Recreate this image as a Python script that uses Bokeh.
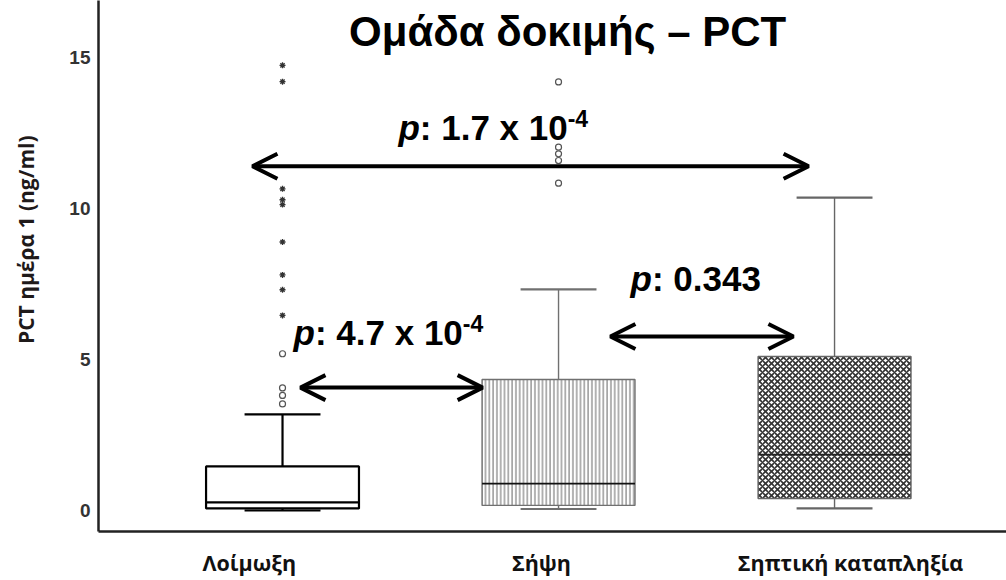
from bokeh.plotting import figure
from bokeh.models import Range1d, FixedTicker, Arrow, OpenHead, ColumnDataSource
from bokeh.core.properties import value
from bokeh.embed import file_html
from bokeh.resources import INLINE

# ---- data ----
categories = ["Λοίμωξη", "Σήψη", "Σηπτική καταπληξία"]
positions = [0, 1, 2]
lower_whisker = [0.0, 0.05, 0.07]
q1 = [0.07, 0.17, 0.40]
median = [0.27, 0.89, 1.85]
q3 = [1.46, 4.34, 5.10]
upper_whisker = [3.18, 7.32, 10.36]

circle_group = [0, 0, 0, 0, 1, 1, 1, 1, 1]
circle_value = [5.19, 4.06, 3.81, 3.53, 14.19, 12.03, 11.81, 11.59, 10.84]
star_group = [0, 0, 0, 0, 0, 0, 0, 0, 0]
star_value = [14.74, 14.20, 10.65, 10.29, 10.13, 8.89, 7.80, 7.31, 6.46]

p_text = ["1.7 x 10", "4.7 x 10", "0.343"]
p_exp = ["-4", "-4", ""]

y_ticks = [0, 5, 10, 15]
title_text = "Ομάδα δοκιμής – PCT"
y_label = "PCT ημέρα 1 (ng/ml)"

# ---- figure ----
W, H = 1006, 580
BOTTOM_AXIS = 531
p = figure(width=W, height=H, output_backend="svg", toolbar_location=None,
           x_range=Range1d(-0.6667, 2.623), y_range=Range1d(-0.695, 16.887),
           min_border_left=98, min_border_right=0, min_border_top=0,
           min_border_bottom=H - BOTTOM_AXIS)
p.outline_line_color = None
p.xgrid.visible = False
p.ygrid.visible = False
p.background_fill_color = "white"
p.border_fill_color = "white"

# y axis
p.yaxis.ticker = FixedTicker(ticks=y_ticks)
p.yaxis.axis_line_width = 2.5
p.yaxis.axis_line_color = "#222222"
p.yaxis.major_tick_line_color = None
p.yaxis.minor_tick_line_color = None
p.yaxis.major_label_text_font = "Liberation Sans"
p.yaxis.major_label_text_font_style = "bold"
p.yaxis.major_label_text_font_size = "19px"
p.yaxis.major_label_text_color = "#333333"
p.yaxis.major_label_standoff = 2
# leading en-spaces lift the centred, rotated title to where it sits in the reference
p.yaxis.axis_label = "\u2002" * 5 + y_label
p.yaxis.axis_label_text_font = "Open Sans"
p.yaxis.axis_label_text_font_style = "bold"
p.yaxis.axis_label_text_font_size = "21px"
p.yaxis.axis_label_text_color = "#1f1a1a"
p.yaxis.axis_label_standoff = 26

# x axis
label_pos = [-0.12, 0.938, 2.058]
p.xaxis.ticker = FixedTicker(ticks=label_pos)
p.xaxis.major_label_overrides = {lp: c for lp, c in zip(label_pos, categories)}
p.xaxis.axis_line_width = 2.5
p.xaxis.axis_line_color = "#222222"
p.xaxis.major_tick_line_color = None
p.xaxis.minor_tick_line_color = None
p.xaxis.major_label_text_font = "Open Sans"
p.xaxis.major_label_text_font_style = "bold"
p.xaxis.major_label_text_font_size = "21.5px"
p.xaxis.major_label_text_color = "#111111"
p.xaxis.major_label_standoff = 10

# ---- boxes ----
box_src = ColumnDataSource(dict(
    x=positions, q1=q1, q3=q3, med=median, lo=lower_whisker, hi=upper_whisker,
    line_color=["#000000", "#707070", "#666666"],
    line_width=[2.2, 1.4, 1.4],
    hatch=[" ", "|", "x"],
    hatch_color=["#ffffff", "#666666", "#333333"],
    hatch_scale=[3.8, 3.8, 6],
    hatch_weight=[1, 1, 1.6],
))
box_w = 0.554
cap_w = 0.275

# whiskers
p.segment(x0="x", y0="q3", x1="x", y1="hi", source=box_src, line_color="line_color", line_width="line_width")
p.segment(x0="x", y0="lo", x1="x", y1="q1", source=box_src, line_color="line_color", line_width="line_width")
caps_x0 = [x - cap_w / 2 for x in positions]
caps_x1 = [x + cap_w / 2 for x in positions]
p.segment(x0=caps_x0, y0=upper_whisker, x1=caps_x1, y1=upper_whisker,
          line_color=["#000000", "#707070", "#666666"], line_width=[2.2, 2.2, 2.2])
p.segment(x0=caps_x0, y0=lower_whisker, x1=caps_x1, y1=lower_whisker,
          line_color=["#000000", "#707070", "#666666"], line_width=[2.2, 2.2, 2.2])

p.vbar(x="x", bottom="q1", top="q3", width=box_w, source=box_src,
       fill_color="white", line_color="line_color", line_width="line_width",
       hatch_pattern="hatch", hatch_color="hatch_color", hatch_scale="hatch_scale",
       hatch_weight="hatch_weight")
med_x0 = [x - box_w / 2 for x in positions]
med_x1 = [x + box_w / 2 for x in positions]
p.segment(x0=med_x0, y0=median, x1=med_x1, y1=median,
          line_color=["#000000", "#111111", "#222222"], line_width=[2.2, 1.6, 1.6])

# outliers
p.scatter(x=[positions[g] for g in circle_group], y=circle_value, marker="circle",
          size=6, fill_color="white", line_color="#555555", line_width=1.2)
p.scatter(x=[positions[g] for g in star_group], y=star_value, marker="asterisk",
          size=6, line_color="#333333", line_width=1.3)

# ---- comparison arrows ----
arrows = [(-0.109, 1.906, 11.4), (0.065, 0.725, 4.07), (1.188, 1.851, 5.76)]
for x0, x1, yy in arrows:
    p.add_layout(Arrow(x_start=x0, y_start=yy, x_end=x1, y_end=yy, line_width=4, line_color="black",
                       start=OpenHead(size=25, line_width=4, line_color="black"),
                       end=OpenHead(size=25, line_width=4, line_color="black")))

# p-value texts (left x, baseline y)
text_anchor = [(0.42, 12.19), (0.04, 5.40), (1.261, 7.19)]
FS = 35
SHIFT = -15
p_w = 0.611 * FS
for (tx, ty), t, e in zip(text_anchor, p_text, p_exp):
    p.text(x=[tx], y=[ty], text=["p"], y_offset=SHIFT, text_font=value("Liberation Sans"),
           text_font_style="bold italic", text_font_size=f"{FS}px",
           text_baseline="alphabetic", text_align="left", text_color="black")
    p.text(x=[tx], y=[ty], text=[": " + t], x_offset=p_w, y_offset=SHIFT,
           text_font=value("Liberation Sans"), text_font_style="bold", text_font_size=f"{FS}px",
           text_baseline="alphabetic", text_align="left", text_color="black")
    if e:
        p.text(x=[tx], y=[ty], text=[e], x_offset=p_w + FS * 4.225, y_offset=SHIFT - 9,
               text_font=value("Liberation Sans"), text_font_style="bold",
               text_font_size="23px", text_baseline="alphabetic", text_align="left",
               text_color="black")

# title
p.text(x=[1.033], y=[15.36], text=[title_text], y_offset=SHIFT, text_font=value("Liberation Sans"),
       text_font_style="bold", text_font_size="42px", text_baseline="alphabetic",
       text_align="center", text_color="black")

open("out.html", "w").write(file_html(p, INLINE))
